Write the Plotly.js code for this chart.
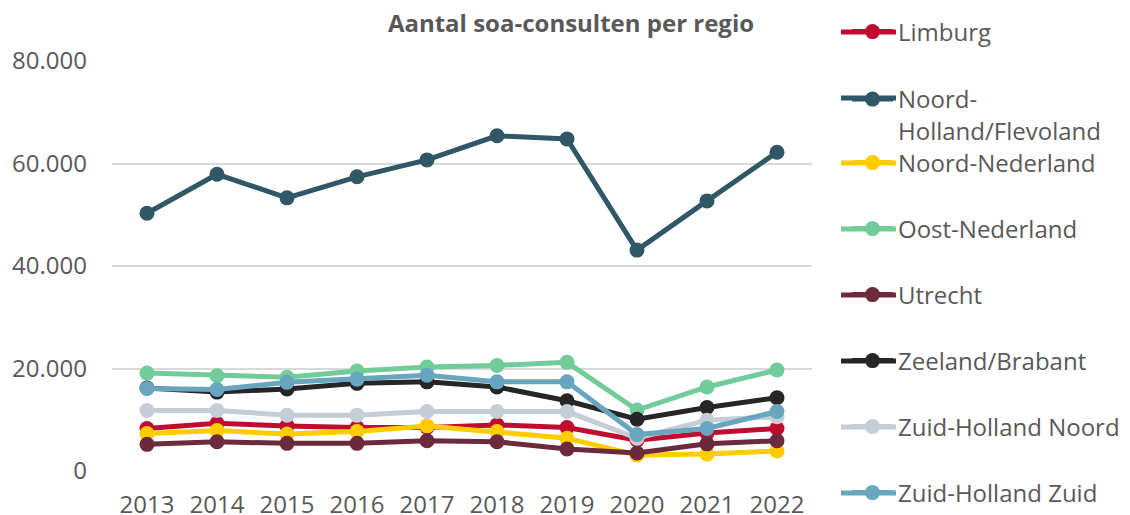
<!DOCTYPE html>
<html>
<head>
<meta charset="utf-8">
<script src="https://cdn.plot.ly/plotly-3.0.1.min.js"></script>
<style>html,body{margin:0;padding:0;background:#fff;}#chart{width:1130px;height:515px;}</style>
</head>
<body>
<div id="chart"></div>
<script>
const years = ['2013','2014','2015','2016','2017','2018','2019','2020','2021','2022'];
const limburg = [8300, 9300, 8800, 8500, 8500, 9000, 8500, 6000, 7400, 8300];
const noordHolland = [50300, 57900, 53300, 57400, 60700, 65400, 64800, 43100, 52700, 62200];
const noordNederland = [7300, 7900, 7200, 7700, 8800, 7700, 6400, 3100, 3300, 3900];
const oostNederland = [19100, 18600, 18300, 19500, 20300, 20600, 21200, 11900, 16400, 19700];
const utrecht = [5200, 5700, 5400, 5400, 5900, 5700, 4300, 3500, 5300, 5900];
const zeelandBrabant = [16200, 15400, 16000, 17100, 17400, 16400, 13700, 10100, 12400, 14300];
const zhNoord = [11800, 11800, 10900, 10900, 11600, 11600, 11600, 6400, 9900, 10600];
const zhZuid = [16100, 15900, 17300, 17900, 18700, 17400, 17400, 7100, 8300, 11600];

const seriesNames = ['Limburg','Noord-<br>Holland/Flevoland','Noord-Nederland','Oost-Nederland','Utrecht','Zeeland/Brabant','Zuid-Holland Noord','Zuid-Holland Zuid'];
const seriesData = [limburg, noordHolland, noordNederland, oostNederland, utrecht, zeelandBrabant, zhNoord, zhZuid];
const colors = ['#C00D2F','#2F5766','#FFCC00','#70CC98','#6D2A3C','#262626','#C5CDD6','#68A6BF'];
const legendY = [32, 98, 163, 229, 295, 361, 427, 493];

const traces = seriesData.map((d, i) => ({
  type: 'scatter', mode: 'lines+markers', x: years, y: d, name: seriesNames[i],
  line: {color: colors[i], width: 5},
  marker: {color: colors[i], size: 15},
  legend: i === 0 ? 'legend' : 'legend' + (i + 1),
  hoverinfo: 'x+y+name'
}));

const font = {family: '"Open Sans", sans-serif', color: '#595959'};
const W = 1130, H = 515, L = 112, R = 318;
const pw = W - L - R;
const layout = {
  width: W, height: H,
  margin: {l: L, r: R, t: 61, b: 44},
  paper_bgcolor: '#fff', plot_bgcolor: '#fff',
  separators: ',.',
  font: Object.assign({size: 24}, font),
  title: {text: '<b>Aantal soa-consulten per regio</b>', font: Object.assign({size: 24}, font),
          x: 571/W, xanchor: 'center', y: 1 - 24/H, yanchor: 'middle', xref: 'container', yref: 'container'},
  xaxis: {type: 'category', range: [-0.5, 9.5], showgrid: false, zeroline: false, showline: false,
          ticks: '', tickfont: Object.assign({size: 24}, font), ticklabelstandoff: 17, fixedrange: true},
  yaxis: {range: [0, 80000], dtick: 20000, tickformat: ',d', showgrid: true, gridcolor: '#D9D9D9', gridwidth: 2,
          zeroline: false, showline: false, ticks: '', tickfont: Object.assign({size: 24}, font), ticklabelstandoff: 24, fixedrange: true},
  showlegend: true,
  shapes: []
};
legendY.forEach((yy, i) => {
  const key = i === 0 ? 'legend' : 'legend' + (i + 1);
  layout[key] = {xref: 'container', yref: 'container', x: 847/W, xanchor: 'left',
    y: 1 - yy/H, yanchor: 'middle', bgcolor: 'rgba(0,0,0,0)', valign: 'middle',
    font: Object.assign({size: 24}, font), itemwidth: 41, tracegroupgap: 0};
  // extend the legend sample line to the reference length
  layout.shapes.push({type: 'line', xref: 'paper', yref: 'paper',
    x0: (841 - L)/pw, x1: (896 - L)/pw, y0: 1 + (61 - yy)/(H - 61 - 44), y1: 1 + (61 - yy)/(H - 61 - 44),
    line: {color: colors[i], width: 5}, layer: 'below'});
});
layout.legend2.yanchor = 'top';
layout.legend2.valign = 'top';
layout.legend2.y = 1 - (98 - 21)/H;

Plotly.newPlot('chart', traces, layout, {displayModeBar: false, staticPlot: true});
</script>
</body>
</html>
